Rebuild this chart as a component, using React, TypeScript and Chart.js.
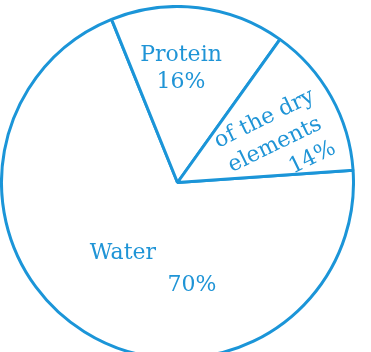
import React, { useEffect, useRef } from "react";
import { Chart, registerables } from "chart.js";

Chart.register(...registerables);

const categories = ["Water", "Protein", "of the dry elements"];
const percentValues = [70, 16, 14];
const labelLines = [["Water", "70%"], ["Protein", "16%"], ["of the dry", "elements", "14%"]];

const BLUE = "#1b95d8";
const TEXT_BLUE = "#1f94d6";

// layout for each slice label (fractions of the radius, relative to the pie centre)
const labelLayout = [
  { lines: [{ dx: -0.31, dy: 0.4, u: 0, v: 0 }, { dx: 0.082, dy: 0.582, u: 0, v: 0 }], rot: 0 },
  { lines: [{ dx: 0.02, dy: -0.724, u: 0, v: 0 }, { dx: 0.02, dy: -0.571, u: 0, v: 0 }], rot: 0 },
  {
    lines: [
      { dx: 0.554, dy: -0.213, u: 2, v: -28 },
      { dx: 0.554, dy: -0.213, u: 0, v: 0 },
      { dx: 0.554, dy: -0.213, u: 28, v: 28 },
    ],
    rot: -26,
  },
];

const labelPlugin = {
  id: "sliceLabels",
  afterDraw(chart: any) {
    const meta = chart.getDatasetMeta(0);
    const ctx = chart.ctx;
    ctx.save();
    ctx.fillStyle = TEXT_BLUE;
    ctx.font = '22px "DejaVu Serif", serif';
    ctx.textAlign = "center";
    ctx.textBaseline = "middle";
    meta.data.forEach((arc: any, i: number) => {
      const { x, y, outerRadius } = arc.getProps(["x", "y", "outerRadius"], true);
      const layout = labelLayout[i];
      const lines = labelLines[i];
      lines.forEach((text, j) => {
        const l = layout.lines[j];
        ctx.save();
        ctx.translate(x + l.dx * outerRadius, y + l.dy * outerRadius);
        ctx.rotate((layout.rot * Math.PI) / 180);
        ctx.fillText(text, l.u, l.v);
        ctx.restore();
      });
    });
    ctx.restore();
  },
};

export default function App() {
  const ref = useRef<HTMLCanvasElement | null>(null);
  useEffect(() => {
    if (!ref.current) return;
    const chart = new Chart(ref.current, {
      type: "pie",
      data: {
        labels: categories,
        datasets: [
          {
            data: percentValues,
            backgroundColor: "#ffffff",
            borderColor: BLUE,
            borderWidth: 3,
          },
        ],
      },
      options: {
        animation: false,
        responsive: false,
        maintainAspectRatio: false,
        devicePixelRatio: 1,
        rotation: 86,
        layout: { padding: 0 },
        plugins: { legend: { display: false }, tooltip: { enabled: false } },
      },
      plugins: [labelPlugin],
    });
    return () => chart.destroy();
  }, []);
  return (
    <div style={{ position: "fixed", left: 0, top: 0, width: 371, height: 352, overflow: "hidden", background: "#fff" }}>
      <canvas
        ref={ref}
        width={355}
        height={355}
        style={{ position: "absolute", left: 0, top: 5, width: 355, height: 355 }}
      />
    </div>
  );
}
